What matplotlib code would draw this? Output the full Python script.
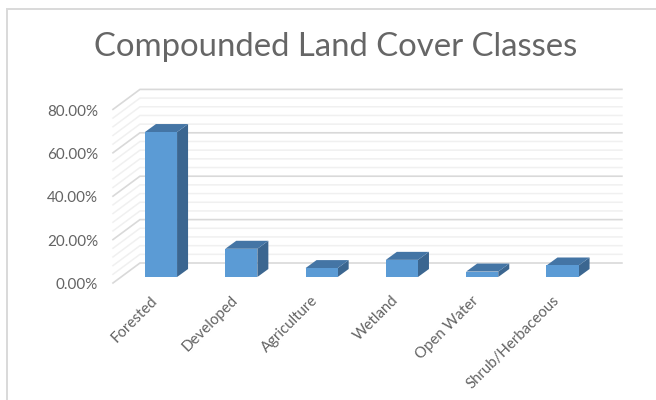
import matplotlib
matplotlib.use('Agg')
import matplotlib.pyplot as plt

plt.rcParams['font.family'] = ['Lato', 'DejaVu Sans']

# data
categories = ['Forested', 'Developed', 'Agriculture', 'Wetland', 'Open Water', 'Shrub/Herbaceous']
values = [66.8, 13.0, 4.1, 7.9, 2.5, 5.3]
yticks = [0, 20, 40, 60, 80]
minor_step = 4

W, H = 656, 400
x_scale = 80.3  # px per category
y_scale = 2.17  # px per percent

fig = plt.figure(figsize=(W / 100, H / 100), dpi=100)
ax = fig.add_axes([0, 0, 1, 1])
# data space lines up with the front plane of the bars
ax.set_xlim((0 - 161) / x_scale, (W - 161) / x_scale)
ax.set_ylim((277 - H) / y_scale, 277 / y_scale)
ax.axis('off')

# depth of the walls and of the bars, in data units
wall_x0 = -0.598
wall_x1 = -0.262
wall_x2 = 5.74
wall_y0 = -2.76
wall_y1 = 6.45
bar_w = 0.4
bar_dx = 11 / x_scale
bar_dy = 8 / y_scale

# gridlines, back wall and side wall
for v in range(0, 81, minor_step):
    major = v % 20 == 0
    color = '#d9d9d9' if major else '#f0f0f0'
    lw = 1.2 if major else 1.1
    ax.plot([wall_x0, wall_x1, wall_x2], [v + wall_y0, v + wall_y1, v + wall_y1],
            color=color, lw=lw, zorder=1, solid_joinstyle='miter')

# bars with side and top faces
for i, v in enumerate(values):
    l = i - bar_w / 2
    r = i + bar_w / 2
    ax.fill([r, r + bar_dx, r + bar_dx, r], [0, bar_dy, v + bar_dy, v],
            color='#3b6690', lw=0, zorder=3)
    ax.fill([l, r, r + bar_dx, l + bar_dx], [v, v, v + bar_dy, v + bar_dy],
            color='#4475a5', lw=0, zorder=3)
ax.bar(range(len(values)), values, bar_w, color='#5b9bd5', zorder=4)

# axis labels
for v in yticks:
    ax.text((98 - 161) / x_scale, v + wall_y0 - 1.0, f'{v:.2f}%', ha='right', va='center',
            fontsize=10.9, color='#636363')
for i, c in enumerate(categories):
    ax.text(i - 0.13, -7.5, c, rotation=45, rotation_mode='anchor', ha='right', va='top',
            fontsize=10.8, color='#636363')

ax.text((336 - 161) / x_scale, (277 - 47) / y_scale, 'Compounded Land Cover Classes',
        ha='center', va='center', fontsize=23.7, color='#666666')

# chart frame on the left and top edges
frame_x = (7 - 161) / x_scale
frame_y = (277 - 9) / y_scale
ax.plot([frame_x, frame_x, (W - 161) / x_scale], [(277 - H) / y_scale, frame_y, frame_y],
        color='#d9d9d9', lw=1.4, solid_joinstyle='miter')

fig.savefig('out.png', dpi=100)
